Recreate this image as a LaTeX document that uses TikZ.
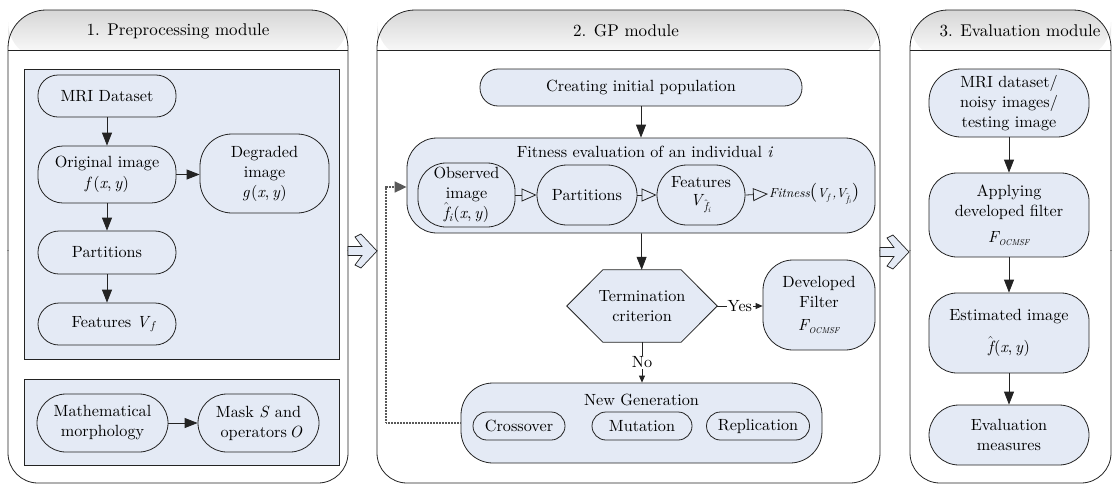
\documentclass[tikz,border=0pt]{standalone}
\usepackage{fontspec}
\setmainfont{lmroman10}[Extension=.otf, UprightFont=*-regular, ItalicFont=*-italic, BoldFont=*-bold, BoldItalicFont=*-bolditalic]
\usetikzlibrary{arrows.meta,calc}
\pgfdeclarelayer{background}
\pgfsetlayers{background,main}

\definecolor{panel}{RGB}{228,234,245}
\definecolor{edge}{RGB}{35,35,35}

% italic variables and small formula helpers
\newcommand\vi[1]{\textit{#1}}
\newcommand\hatf{$\hat{\mbox{\itshape f}}$}
\newcommand\fxy{\vi{f}\kern1pt(\vi{x},\,\vi{y})}
\newcommand\Focmsf{\vi{F}\textsubscript{\kern-1pt\fontsize{8.5}{9}\selectfont\itshape OCMSF}}

% frame of one module: left, right, top, header line, bottom
\newcommand\modframe[5]{%
  \begin{scope}
    \clip (#1-5,#3-5) rectangle (#2+5,#4);
    \shade[top color=black!16, bottom color=white, rounded corners=38pt] (#1,#3) rectangle (#2,#4+10);
  \end{scope}
  \begin{scope}
    \clip (#1-5,#3-5) rectangle (#2+5,250);
    \draw[draw=edge, line width=0.8pt, rounded corners=38pt] (#1,#3) rectangle (#2,#5);
  \end{scope}
  \begin{scope}
    \clip (#1-5,250) rectangle (#2+5,#5+5);
    \draw[draw=edge, line width=0.8pt, rounded corners=30pt] (#1,#3) rectangle (#2,#5);
  \end{scope}
  \draw[draw=edge, line width=0.8pt] (#1,#4) -- (#2,#4);
}

% hollow block arrow between two modules, tip at (#1,#2)
\newcommand\blockarrow[2]{%
  \draw[draw=edge, fill=panel, line width=0.7pt]
    (#1-29,#2-4.5) -- (#1-15,#2-4.5) -- (#1-22,#2-14) -- (#1-16,#2-17)
    -- (#1,#2) -- (#1-16,#2+17) -- (#1-22,#2+14) -- (#1-15,#2+4.5)
    -- (#1-29,#2+4.5) -- cycle;
}

\begin{document}
\begin{tikzpicture}[x=1pt,y=-1pt,
  every node/.style={font=\fontsize{16.2}{20}\selectfont},
  blk/.style={draw=edge, fill=panel, line width=0.8pt, align=center, inner sep=1pt},
  arr/.style={draw=edge, line width=0.8pt, -{Triangle[length=13pt,width=10pt]}},
  sarr/.style={draw=edge, line width=0.8pt, -{Triangle[length=7pt,width=6pt]}},
  oarr/.style={draw=edge, line width=0.8pt, -{Triangle[open,length=15pt,width=13pt]}},
  fback/.style={draw=black!65, line width=1.7pt, dash pattern=on 1pt off 0.5pt,
                -{Triangle[length=12pt,width=11pt]}},
  hdr/.style={font=\fontsize{17}{20}\selectfont},
  lbl/.style={fill=white, inner sep=1pt},
]
\useasboundingbox (0,0) rectangle (1113,485);

% ---------- module frames ----------
\modframe{8}{348}{10}{50}{483}
\modframe{377}{880}{10}{50}{483}
\modframe{910}{1111}{10}{50}{483}
\node[hdr] (h1) at (178,31) {1. Preprocessing module};
\node[hdr] (h2) at (626,31) {2. GP module};
\node[hdr] (h3) at (1020,31) {3. Evaluation module};

\blockarrow{377}{251}
\blockarrow{909}{252}

% ---------- 1. Preprocessing ----------
\draw[draw=edge, fill=panel, line width=0.8pt] (24,69) rectangle (339,359);
\draw[draw=edge, fill=panel, line width=0.8pt] (24,379) rectangle (339,465);

\node[blk, rounded corners=20, minimum width=138, minimum height=42] (mri) at (107,96) {MRI Dataset};
\node[blk, rounded corners=25, minimum width=138, minimum height=57] (orig) at (107,174.5) {Original image\\[1pt]\fxy};
\node[blk, rounded corners=32, minimum width=129, minimum height=79] (deg) at (264.5,173.5) {Degraded\\image\\\vi{g}\kern1pt(\vi{x},\,\vi{y})};
\node[blk, rounded corners=21, minimum width=138, minimum height=43] (part1) at (107,252.5) {Partitions};
\node[blk, rounded corners=21, minimum width=138, minimum height=42] (feat1) at (107,324) {\hspace*{14pt}Features \vi{V}\textsubscript{\vi{f}}};
\node[blk, rounded corners=29, minimum width=131, minimum height=58] (morph) at (102.5,423) {Mathematical\\morphology};
\node[blk, rounded corners=29, minimum width=121, minimum height=58] (mask) at (258.5,423) {Mask \vi{S} and\\\hspace*{6pt}operators\,\vi{O}};

\draw[arr] (mri) -- (orig);
\draw[arr] (orig.east) -- (orig.east -| deg.west);
\draw[arr] (orig) -- (part1);
\draw[arr] (part1) -- (feat1);
\draw[arr] (morph) -- (mask);

% ---------- 2. GP ----------
\node[blk, rounded corners=18, minimum width=322, minimum height=37] (init) at (641,87.5) {Creating initial population};
\node[blk, rounded corners=30, minimum width=468, minimum height=95] (fit) at (641,185.5) {};
\node (fittl) at (645,152) {Fitness evaluation of an individual \vi{i}};
\node[blk, rounded corners=28, minimum width=97, minimum height=64] (obs) at (466.5,195) {Observed\\image\\\hatf\textsubscript{\vi{i}}(\vi{x},\,\vi{y})};
\node[blk, rounded corners=30, minimum width=100, minimum height=60] (part2) at (587,195) {Partitions};
\node[blk, rounded corners=30, minimum width=88, minimum height=60] (feat2) at (701,195) {Features\\[-2pt]\vi{V}\textsubscript{\hatf\textsubscript{\vi{i}}}};
\node[anchor=west, inner sep=1pt, font=\itshape\fontsize{13}{15}\selectfont] (fitn) at (768,194)
  {Fitness{\fontsize{19}{19}\selectfont\upshape(}V\textsubscript{f}\,,V\textsubscript{\hatf\textsubscript{i}}{\fontsize{19}{19}\selectfont\upshape)}};

\draw[oarr] (obs) -- (part2);
\draw[oarr] (part2) -- (feat2);
\draw[oarr] (feat2.east) -- (fitn.west);
\draw[arr] (init) -- (fit);

\node[align=center, minimum width=150, minimum height=72, inner sep=0] (term) at (642,306) {Termination\\criterion};
\begin{pgfonlayer}{background}
  \draw[draw=edge, fill=panel, line width=0.8pt]
    (term.west) -- ($(term.north west)+(36,0)$) -- ($(term.north east)+(-36,0)$)
    -- (term.east) -- ($(term.south east)+(-36,0)$) -- ($(term.south west)+(36,0)$) -- cycle;
\end{pgfonlayer}
\draw[arr] (fit) -- (term);

\node[blk, rounded corners=30, minimum width=112, minimum height=90] (dev) at (819,305) {Developed\\Filter\\[3pt]\Focmsf};
\draw[sarr] (term.east) -- node[lbl] {Yes} (term.east -| dev.west);

\node[blk, rounded corners=32, minimum width=361, minimum height=80] (ng) at (641.5,423) {};
\node (ngtl) at (641.5,400) {New Generation};
\node[blk, rounded corners=14, minimum width=92, minimum height=28] (cross) at (519,426) {Crossover};
\node[blk, rounded corners=14, minimum width=100, minimum height=28] (mut) at (642,426) {Mutation};
\node[blk, rounded corners=14, minimum width=103, minimum height=28] (repl) at (758,426) {Replication};
\draw[sarr] (term.south) -- node[lbl] {No} (term.south |- ng.north);

\coordinate (fbc) at (386,187);
\draw[fback] (ng.west) -| (fbc) -- (fbc -| fit.west);

% ---------- 3. Evaluation ----------
\node[blk, rounded corners=32, minimum width=160, minimum height=68] (mri3) at (1009,103) {MRI dataset/\\noisy images/\\testing image};
\node[blk, rounded corners=28, minimum width=160, minimum height=84] (apply) at (1009,215) {Applying\\developed filter\\[6pt]\Focmsf};
\node[blk, rounded corners=28, minimum width=160, minimum height=80] (est) at (1009,333) {Estimated image\\[12pt]\hatf\kern1pt(\vi{x},\,\vi{y})};
\node[blk, rounded corners=30, minimum width=160, minimum height=60] (evalm) at (1009,435) {Evaluation\\measures};
\draw[arr] (mri3) -- (apply);
\draw[arr] (apply) -- (est);
\draw[arr] (est) -- (evalm);
\end{tikzpicture}
\end{document}
